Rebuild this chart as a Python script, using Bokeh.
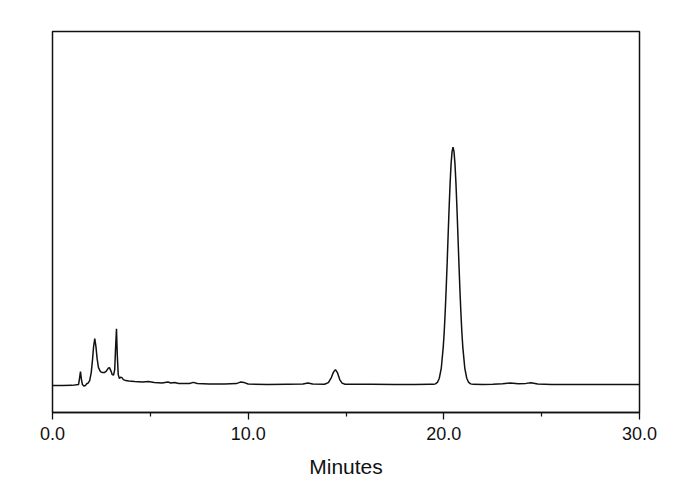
from bokeh.plotting import figure
from bokeh.models import Range1d, FixedTicker, CustomJSTickFormatter, ColumnDataSource
from bokeh.embed import file_html
from bokeh.resources import INLINE

# Chromatogram trace (time in minutes, signal in arbitrary units)
time_min = [
    0.0, 0.5, 1.0, 1.33, 1.38, 1.43, 1.48, 1.53, 1.6, 1.68, 1.75,
    1.8, 1.9, 1.98, 2.05, 2.1, 2.16, 2.22, 2.28, 2.35, 2.45, 2.55, 2.65, 2.75, 2.85, 2.91, 2.98,
    3.05, 3.12, 3.18, 3.22, 3.27, 3.31, 3.36, 3.42, 3.48, 3.55, 3.62, 3.75, 3.9, 4.2, 4.6, 4.9,
    5.2, 5.6, 5.9, 6.05, 6.25, 6.45, 7.0, 7.2, 7.4, 8.0, 8.8, 9.4, 9.6, 9.8, 10.0, 11.0, 12.0,
    12.8, 13.05, 13.3, 13.9, 14.1, 14.25, 14.36, 14.46, 14.56, 14.68, 14.8, 14.95, 15.5, 16.3,
    17.5, 18.5, 19.3, 19.47, 19.57, 19.67, 19.77, 19.87, 19.97, 20.02, 20.07, 20.12, 20.17,
    20.22, 20.27, 20.32, 20.37, 20.42, 20.47, 20.52, 20.57, 20.62, 20.67, 20.72, 20.77, 20.82,
    20.87, 20.92, 20.97, 21.07, 21.17, 21.27, 21.37, 21.5, 22.0, 22.5, 23.0, 23.4, 23.8, 24.2,
    24.45, 24.8, 25.5, 27.0, 28.5, 30.0,
]
signal = [
    -1.0, -1.0, -0.8, 0.0, 6.0, 13.0, 5.0, 0.0, -1.5, -1.0, 1.0,
    1.0, 4.0, 12.0, 26.0, 38.0, 46.0, 38.0, 26.0, 17.0, 13.0, 12.0, 12.0, 13.5, 16.5, 17.0, 14.0,
    10.0, 9.5, 15.0, 35.0, 56.0, 30.0, 10.0, 6.0, 7.5, 7.0, 5.0, 4.0, 3.5, 3.0, 2.5, 3.0,
    2.0, 1.5, 2.5, 1.5, 2.0, 1.0, 1.0, 2.2, 1.0, 0.5, 0.5, 1.0, 2.5, 2.0, 0.5, 0.0, 0.3,
    0.5, 1.5, 0.5, 0.3, 2.0, 7.0, 12.5, 15.0, 12.0, 5.0, 1.5, 0.3, 0.3, 0.2,
    0.0, 0.0, 0.2, 0.2, 0.7, 2.1, 6.4, 16.6, 37.5, 53.0, 73.0, 96.0, 122.0,
    150.0, 177.0, 201.5, 221.0, 233.6, 238.0, 233.6, 221.0, 201.5, 177.0, 150.0, 122.0, 96.0,
    73.0, 53.0, 37.5, 16.6, 6.4, 2.1, 0.7, 0.2, 0.0, 0.3, 0.8, 1.5, 0.8, 1.2,
    1.8, 0.5, 0.0, 0.0, 0.0, 0.0,
]

x_major_ticks = [0, 10, 20, 30]
x_minor_ticks = [5, 15, 25]
x_label = "Minutes"

src = ColumnDataSource(data=dict(t=time_min, s=signal))

p = figure(
    width=674, height=480,
    output_backend="svg", toolbar_location=None,
    x_range=Range1d(0, 30), y_range=Range1d(-28, 354),
    min_border_left=52, min_border_right=35, min_border_top=31, min_border_bottom=60,
)
p.background_fill_color = "white"
p.border_fill_color = "white"
p.outline_line_color = "#111111"
p.outline_line_width = 1.5
p.grid.visible = False
p.yaxis.visible = False

p.line("t", "s", source=src, line_color="#111111", line_width=1.5)

ax = p.xaxis[0]
ax.ticker = FixedTicker(ticks=x_major_ticks, minor_ticks=x_minor_ticks)
ax.formatter = CustomJSTickFormatter(code="return tick.toFixed(1);")
ax.axis_line_color = "#111111"
ax.axis_line_width = 1.5
ax.major_tick_line_color = "#111111"
ax.major_tick_line_width = 1.3
ax.major_tick_out = 7
ax.major_tick_in = 0
ax.minor_tick_line_color = "#111111"
ax.minor_tick_line_width = 1.2
ax.minor_tick_out = 4
ax.minor_tick_in = 0
ax.major_label_text_font = "Liberation Sans"
ax.major_label_text_font_size = "18px"
ax.major_label_text_color = "#111111"
ax.major_label_standoff = 7
ax.axis_label = x_label
ax.axis_label_text_font = "Liberation Sans"
ax.axis_label_text_font_style = "normal"
ax.axis_label_text_font_size = "21px"
ax.axis_label_text_color = "#111111"
ax.axis_label_standoff = 12

open("out.html", "w").write(file_html(p, INLINE))
